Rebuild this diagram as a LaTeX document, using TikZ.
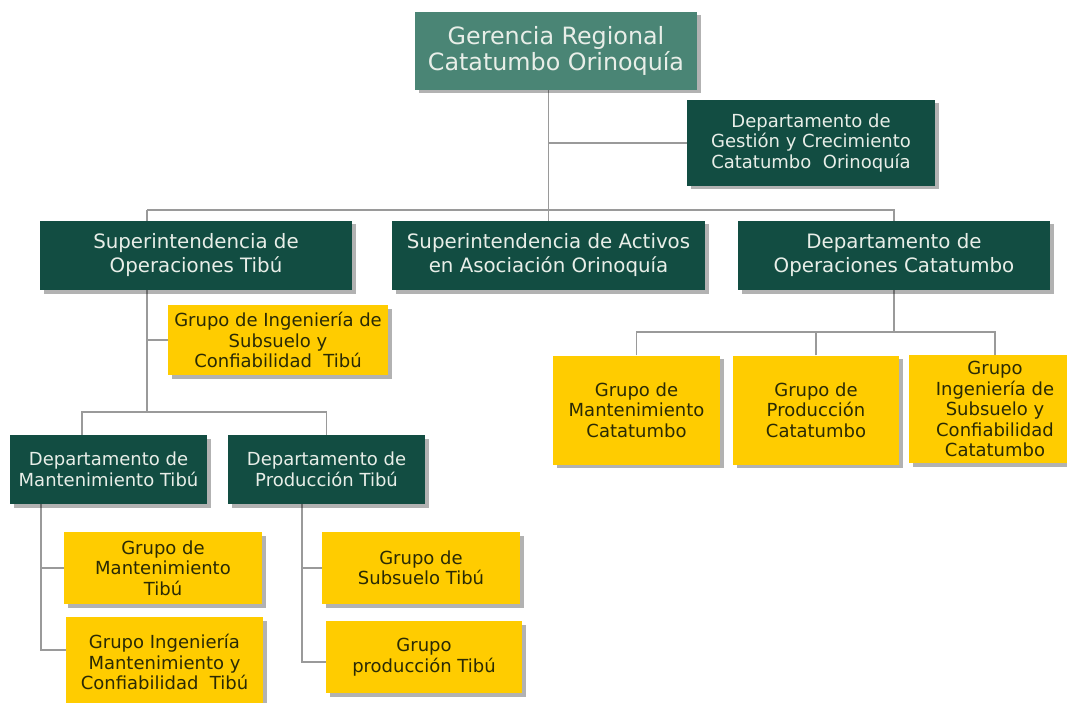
\documentclass[tikz,border=0pt]{standalone}
\usepackage{fontspec}
\setmainfont{DejaVu Sans}
\usetikzlibrary{shadows,backgrounds}

\definecolor{topgreen}{HTML}{4A8575}
\definecolor{dkgreen}{HTML}{124D42}
\definecolor{goldbox}{HTML}{FFCC00}
\definecolor{lighttext}{HTML}{E8EEE8}
\definecolor{darktext}{HTML}{2A2A05}
\definecolor{linegray}{HTML}{9A9A9A}

\tikzset{
  box/.style={rectangle, inner sep=2pt, align=center,
    drop shadow={shadow xshift=3.5pt, shadow yshift=-3.5pt, fill=black, opacity=0.3}},
  headbox/.style={box, fill=topgreen, text=lighttext,
    font=\fontsize{23.8}{26}\selectfont},
  superbox/.style={box, fill=dkgreen, text=lighttext,
    font=\fontsize{19.8}{24}\selectfont},
  deptbox/.style={box, fill=dkgreen, text=lighttext,
    font=\fontsize{18}{20.5}\selectfont},
  groupbox/.style={box, fill=goldbox, text=darktext,
    font=\fontsize{18}{20.5}\selectfont},
  conn/.style={draw=linegray, line width=1.3pt},
  size/.style 2 args={minimum width=#1pt, minimum height=#2pt}
}

\begin{document}
\begin{tikzpicture}[x=1pt, y=-1pt]
  \useasboundingbox (0,0) rectangle (1067,703);

  % top management
  \node[headbox, size={282}{78}] (top) at (556,51)
    {Gerencia Regional\\Catatumbo Orinoquía};
  \node[deptbox, size={248}{86}] (gest) at (811,143)
    {Departamento de\\Gestión y Crecimiento\\Catatumbo\ \ Orinoquía};

  % second level
  \node[superbox, size={312}{69}] (supOp) at (196,255.5)
    {Superintendencia de\\Operaciones Tibú};
  \node[superbox, size={313}{69}] (supAct) at (548.5,255.5)
    {Superintendencia de Activos\\en Asociación Orinoquía};
  \node[superbox, size={312}{69}] (dptCat) at (894,255.5)
    {Departamento de\\Operaciones Catatumbo};

  % Tibú branch
  \node[groupbox, size={220}{70}] (grpIngT) at (278,340)
    {Grupo de Ingeniería de\\Subsuelo y\\Confiabilidad\ \ Tibú};
  \node[deptbox, size={197}{69}] (dptMant) at (108.5,469.5)
    {Departamento de\\Mantenimiento Tibú};
  \node[deptbox, size={197}{69}] (dptProd) at (326.5,469.5)
    {Departamento de\\Producción Tibú};
  \node[groupbox, size={198}{72}] (grpMantT) at (163,568)
    {Grupo de\\Mantenimiento\\Tibú};
  \node[groupbox, size={197}{90}] (grpIngMT) at (164.5,662)
    {Grupo Ingeniería\\Mantenimiento y\\Confiabilidad\ \ Tibú};
  \node[groupbox, size={198}{72}] (grpSubT) at (421,568)
    {Grupo de\\Subsuelo Tibú};
  \node[groupbox, size={196}{72}] (grpProdT) at (424,657)
    {Grupo\\producción Tibú};

  % Catatumbo branch
  \node[groupbox, size={167}{109}] (grpMantC) at (636.5,410)
    {Grupo de\\Mantenimiento\\Catatumbo};
  \node[groupbox, size={166}{109}] (grpProdC) at (816,410)
    {Grupo de\\Producción\\Catatumbo};
  \node[groupbox, size={172}{108}] (grpIngC) at (995,409)
    {Grupo\\Ingeniería de\\Subsuelo y\\Confiabilidad\\Catatumbo};

  % connectors, drawn beneath the boxes
  \begin{scope}[on background layer]
    \fill[white] (0,0) rectangle (1067,703);

    \coordinate (opX) at (147,210);
    \coordinate (opBus) at (147,412);
    \coordinate (mX) at (82,412);
    \coordinate (pX) at (326.5,412);
    \coordinate (mV) at (41,650);
    \coordinate (pV) at (302,662);
    \coordinate (cBus) at (894,332);

    \draw[conn] (top.south -| supAct.north) -- (supAct.north);
    \draw[conn] (supAct.north |- gest.west) -- (gest.west);
    \draw[conn] (opX) -| (dptCat.north);
    \draw[conn] (opX) -- (opBus);
    \draw[conn] (opX |- grpIngT.west) -- (grpIngT.west);

    \draw[conn] (mX |- dptMant.north) -- (mX) -- (pX) -- (dptProd.north);

    \draw[conn] (mV |- dptMant.south) -- (mV) -- (mV -| grpIngMT.west);
    \draw[conn] (mV |- grpMantT.west) -- (grpMantT.west);

    \draw[conn] (pV |- dptProd.south) -- (pV) -- (pV -| grpProdT.west);
    \draw[conn] (pV |- grpSubT.west) -- (grpSubT.west);

    \draw[conn] (dptCat.south) -- (cBus);
    \draw[conn] (grpMantC.north) -- (grpMantC.north |- cBus)
      -- (grpIngC.north |- cBus) -- (grpIngC.north);
    \draw[conn] (grpProdC.north) -- (grpProdC.north |- cBus);
  \end{scope}
\end{tikzpicture}
\end{document}
